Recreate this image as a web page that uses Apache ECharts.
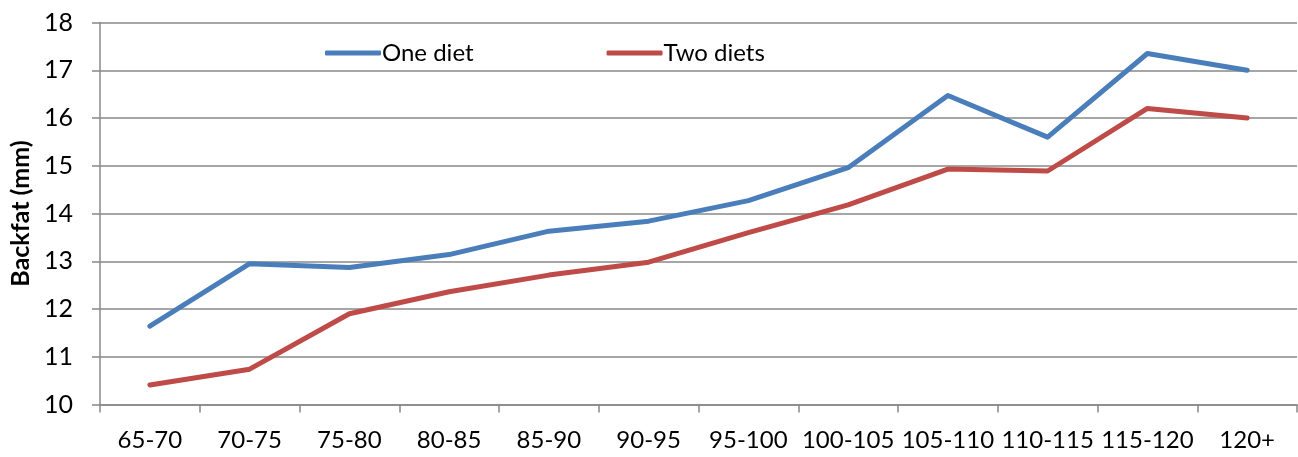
<!DOCTYPE html>
<html>
<head>
<meta charset="utf-8">
<script src="https://cdn.jsdelivr.net/npm/echarts@6/dist/echarts.min.js"></script>
<style>
  html, body { margin: 0; padding: 0; background: #fff; }
  #chart { width: 1298px; height: 457px; }
</style>
</head>
<body>
<div id="chart"></div>
<script>
// Weight classes (kg) and mean backfat depth per class
const categories = ['65-70', '70-75', '75-80', '80-85', '85-90', '90-95', '95-100', '100-105', '105-110', '110-115', '115-120', '120+'];
const oneDiet = [11.64, 12.95, 12.87, 13.14, 13.63, 13.84, 14.27, 14.96, 16.47, 15.60, 17.35, 17.00];
const twoDiets = [10.41, 10.74, 11.90, 12.36, 12.71, 12.98, 13.60, 14.18, 14.93, 14.89, 16.20, 16.00];
const yTicks = { min: 10, max: 18, interval: 1 };

const FONT = 'Lato, "Noto Sans", sans-serif';
const GRID_GREY = '#888888';

const chart = echarts.init(document.getElementById('chart'), null, { renderer: 'canvas' });

chart.setOption({
  animation: false,
  textStyle: { fontFamily: FONT, color: '#000' },
  grid: { left: 100, right: 1, top: 22.5, bottom: 52.5, containLabel: false, outerBoundsMode: 'none' },
  legend: {
    left: 320,
    top: 36,
    itemWidth: 56,
    itemHeight: 5,
    itemGap: 133,
    icon: 'roundRect',
    textStyle: { fontFamily: FONT, fontSize: 24, color: '#000', padding: [0, 0, 0, -4] },
    data: ['One diet', 'Two diets']
  },
  xAxis: {
    type: 'category',
    data: categories,
    boundaryGap: true,
    axisLine: { show: true, lineStyle: { color: GRID_GREY, width: 1.5 } },
    axisTick: { show: true, interval: 0, length: 8, lineStyle: { color: GRID_GREY, width: 1.5 } },
    axisLabel: { interval: 0, fontFamily: FONT, fontSize: 24, color: '#000', margin: 24 },
    splitLine: { show: false }
  },
  yAxis: {
    type: 'value',
    min: yTicks.min,
    max: yTicks.max,
    interval: yTicks.interval,
    name: 'Backfat (mm)',
    nameLocation: 'middle',
    nameGap: 67,
    nameRotate: 90,
    nameTextStyle: { fontFamily: FONT, fontSize: 25, fontWeight: 'bold', color: '#000' },
    axisLine: { show: true, lineStyle: { color: GRID_GREY, width: 1.5 } },
    axisTick: { show: true, length: 8, lineStyle: { color: GRID_GREY, width: 1.5 } },
    axisLabel: { fontFamily: FONT, fontSize: 25, color: '#000', margin: 27 },
    splitLine: { show: true, lineStyle: { color: GRID_GREY, width: 1.5 } }
  },
  series: [
    {
      name: 'One diet',
      type: 'line',
      data: oneDiet,
      symbol: 'none',
      lineStyle: { color: '#4A7EBB', width: 5, cap: 'round', join: 'round' },
      itemStyle: { color: '#4A7EBB' }
    },
    {
      name: 'Two diets',
      type: 'line',
      data: twoDiets,
      symbol: 'none',
      lineStyle: { color: '#BE4B48', width: 5, cap: 'round', join: 'round' },
      itemStyle: { color: '#BE4B48' }
    }
  ]
});
</script>
</body>
</html>
